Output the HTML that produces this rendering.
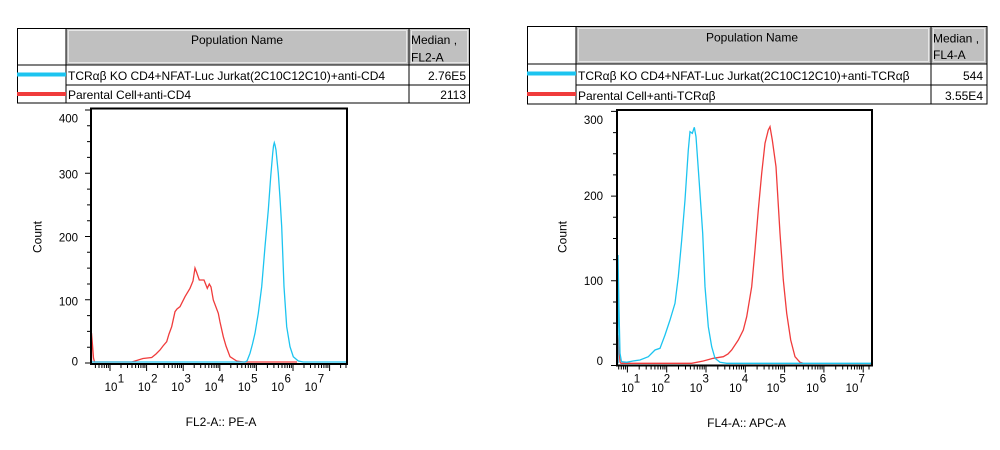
<!DOCTYPE html>
<html><head><meta charset="utf-8"><style>
html,body{margin:0;padding:0;background:#fff;}
svg{display:block;}
text{font-family:"Liberation Sans",Arial,sans-serif;fill:#000;}
</style></head><body>
<svg width="1000" height="450" viewBox="0 0 1000 450" xmlns="http://www.w3.org/2000/svg">
<rect x="0" y="0" width="1000" height="450" fill="#fff"/>

<!-- ===== LEFT TABLE ===== -->
<rect x="66" y="28" width="343" height="37" fill="#c0c0c0"/>
<rect x="409" y="28" width="61" height="37" fill="#c0c0c0"/>
<rect x="68.5" y="30.5" width="338" height="32" fill="none" stroke="#e6e6e6" stroke-width="1"/>
<rect x="411.5" y="30.5" width="56" height="32" fill="none" stroke="#e6e6e6" stroke-width="1"/>
<g stroke="#000" stroke-width="1" fill="none">
<rect x="17.5" y="28.5" width="452" height="74.5"/>
<line x1="17" y1="65" x2="470" y2="65"/>
<line x1="66" y1="85" x2="470" y2="85"/>
<line x1="66" y1="28" x2="66" y2="103"/>
<line x1="409" y1="28" x2="409" y2="103"/>
</g>
<line x1="17" y1="74.5" x2="66" y2="74.5" stroke="#1cc4f0" stroke-width="4"/>
<line x1="17" y1="94" x2="66" y2="94" stroke="#f03c3c" stroke-width="4"/>
<g font-size="12">
<text x="237" y="44" text-anchor="middle">Population Name</text>
<text x="411" y="44">Median ,</text>
<text x="411" y="61.5">FL2-A</text>
<text x="68" y="80">TCRαβ KO CD4+NFAT-Luc Jurkat(2C10C12C10)+anti-CD4</text>
<text x="466" y="80" text-anchor="end">2.76E5</text>
<text x="68" y="99">Parental Cell+anti-CD4</text>
<text x="466" y="99" text-anchor="end">2113</text>
</g>

<!-- ===== RIGHT TABLE ===== -->
<rect x="576" y="26" width="355" height="38" fill="#c0c0c0"/>
<rect x="931" y="26" width="56" height="38" fill="#c0c0c0"/>
<rect x="578.5" y="28.5" width="350" height="33" fill="none" stroke="#e6e6e6" stroke-width="1"/>
<rect x="933.5" y="28.5" width="51" height="33" fill="none" stroke="#e6e6e6" stroke-width="1"/>
<g stroke="#000" stroke-width="1" fill="none">
<rect x="527.5" y="26.5" width="459.5" height="77.5"/>
<line x1="527" y1="64" x2="987" y2="64"/>
<line x1="576" y1="85" x2="987" y2="85"/>
<line x1="576" y1="26" x2="576" y2="104"/>
<line x1="931" y1="26" x2="931" y2="104"/>
</g>
<line x1="527" y1="73.5" x2="576" y2="73.5" stroke="#1cc4f0" stroke-width="4"/>
<line x1="527" y1="94" x2="576" y2="94" stroke="#f03c3c" stroke-width="4"/>
<g font-size="12">
<text x="752" y="41.5" text-anchor="middle">Population Name</text>
<text x="933" y="42.5">Median ,</text>
<text x="933" y="59">FL4-A</text>
<text x="578" y="80">TCRαβ KO CD4+NFAT-Luc Jurkat(2C10C12C10)+anti-TCRαβ</text>
<text x="983" y="80" text-anchor="end">544</text>
<text x="578" y="100">Parental Cell+anti-TCRαβ</text>
<text x="983" y="100" text-anchor="end">3.55E4</text>
</g>

<!-- ===== LEFT CHART ===== -->
<polyline fill="none" stroke="#f03c3c" stroke-width="1.3" points="91.5,362 91.5,333 92.5,345 93.5,358 94.5,362 131.7,362 135,361 143,358.5 151.7,357.5 156,354 160,350 163,346 166.7,341.7 169,334 171.7,326.7 175,311.7 177,309 180,306.7 185,296.7 190,288.3 193,281 195,268 196.5,272 199.3,280 204,280 207.3,288.3 209.3,284 211,287 213.3,300 218.3,313.3 220,322 223.3,336.7 226,346 230,356.7 236.7,361 243.3,362 297,362"/>
<polyline fill="none" stroke="#1cc4f0" stroke-width="1.3" points="92,362 245,362 247,361 250,353.3 252.5,344 255,333.3 258.3,313.3 261.7,286.7 265,246.7 268.3,210 270.7,176.7 272.7,153.3 273.5,146 274.3,142.7 275,145 276,150 278.3,173.3 280,198 281.7,226.7 284,286.7 286.7,326.7 290,346.7 293.3,356.7 298.3,361 303.3,362 346,362"/>
<rect x="91" y="108.5" width="256" height="255.5" fill="none" stroke="#000" stroke-width="2"/>
<path stroke="#000" stroke-width="1" fill="none" d="
M85,363H90 M85,299.75H90 M85,236.5H90 M85,173.25H90 M85,110H90
M87,347.2H90 M87,331.4H90 M87,315.6H90 M87,284H90 M87,268.1H90 M87,252.3H90
M87,220.7H90 M87,204.9H90 M87,189.1H90 M87,157.4H90 M87,141.6H90 M87,125.8H90
M110,365V371 M146.6,365V371 M183.2,365V371 M219.8,365V371 M256.4,365V371 M293,365V371 M329.6,365V371
M95.4,365V368 M99,365V368 M101.9,365V368 M104.3,365V368 M106.5,365V368 M108.3,365V368
M121,365V368 M127.5,365V368 M132,365V368 M135.6,365V368 M138.5,365V368 M140.9,365V368 M143.1,365V368 M144.9,365V368
M157.6,365V368 M164.1,365V368 M168.6,365V368 M172.2,365V368 M175.1,365V368 M177.5,365V368 M179.7,365V368 M181.5,365V368
M194.2,365V368 M200.7,365V368 M205.2,365V368 M208.8,365V368 M211.7,365V368 M214.1,365V368 M216.3,365V368 M218.1,365V368
M230.8,365V368 M237.3,365V368 M241.8,365V368 M245.4,365V368 M248.3,365V368 M250.7,365V368 M252.9,365V368 M254.7,365V368
M267.4,365V368 M273.9,365V368 M278.4,365V368 M282,365V368 M284.9,365V368 M287.3,365V368 M289.5,365V368 M291.3,365V368
M304,365V368 M310.5,365V368 M315,365V368 M318.6,365V368 M321.5,365V368 M323.9,365V368 M326.1,365V368 M327.9,365V368
M340.6,365V368 M346,365V368"/>
<g font-size="11.5" text-anchor="end">
<text x="78" y="122.5">400</text>
<text x="78" y="178.5">300</text>
<text x="78" y="241.5">200</text>
<text x="78" y="305.5">100</text>
<text x="78" y="365.5">0</text>
</g>
<g font-size="11.5" text-anchor="middle">
<text x="111" y="391">10</text><text x="121" y="382.5">1</text>
<text x="144.3" y="391">10</text><text x="154.3" y="382.5">2</text>
<text x="177.7" y="391">10</text><text x="187.7" y="382.5">3</text>
<text x="211" y="391">10</text><text x="221" y="382.5">4</text>
<text x="244.3" y="391">10</text><text x="254.3" y="382.5">5</text>
<text x="277.7" y="391">10</text><text x="287.7" y="382.5">6</text>
<text x="311" y="391">10</text><text x="321" y="382.5">7</text>
</g>
<text x="221" y="426" font-size="12" text-anchor="middle">FL2-A:: PE-A</text>
<text transform="translate(41.5,237) rotate(-90)" font-size="12" text-anchor="middle">Count</text>

<!-- ===== RIGHT CHART ===== -->
<polyline fill="none" stroke="#f03c3c" stroke-width="1.3" points="618,363.3 618,335 619,350 620,362 621,363.3 691.7,363.3 703.3,361 713.3,358.3 723.3,356.7 728,354 731.7,350 738.3,340 743.3,330 746.7,316.7 751.7,286.7 755,250 758.3,210 761.7,173.3 765,143.3 768.3,130 770,126.7 772.3,140 776,166.7 780,233.3 783.3,280 786.7,313.3 790.7,340 795,356.7 800,362.3 803,363.3"/>
<polyline fill="none" stroke="#1cc4f0" stroke-width="1.3" points="618,363.3 618,255 619,310 620,353.3 621.5,361.7 626.7,362.3 633,361 640,360 648.3,356.7 652,353 655,350 660,348.3 665,335 670,320 675,303.3 678.3,276.7 681.7,240 685,200 688.3,150 690,131.7 692.3,133.3 694.3,127.3 696,136.7 699.3,183.3 702.7,233.3 705,286.7 708.3,326.7 711.7,346.7 715,358.3 720,362.3 726.7,363.3 871,363.3"/>
<rect x="617" y="110" width="255" height="255.5" fill="none" stroke="#000" stroke-width="2"/>
<path stroke="#000" stroke-width="1" fill="none" d="
M611,365.5H616 M611,280.8H616 M611,196.1H616 M611,111.4H616
M613,344.3H616 M613,323.1H616 M613,302H616 M613,259.6H616 M613,238.5H616 M613,217.3H616
M613,174.9H616 M613,153.7H616 M613,132.6H616
M627.4,366.5V372.5 M666.7,366.5V372.5 M706,366.5V372.5 M745.3,366.5V372.5 M784.6,366.5V372.5 M823.9,366.5V372.5 M863.2,366.5V372.5
M618.7,366.5V369.5 M621.3,366.5V369.5 M623.6,366.5V369.5 M625.6,366.5V369.5
M639.2,366.5V369.5 M646.2,366.5V369.5 M651.1,366.5V369.5 M654.9,366.5V369.5 M658,366.5V369.5 M660.6,366.5V369.5 M662.9,366.5V369.5 M664.9,366.5V369.5
M678.5,366.5V369.5 M685.5,366.5V369.5 M690.4,366.5V369.5 M694.2,366.5V369.5 M697.3,366.5V369.5 M699.9,366.5V369.5 M702.2,366.5V369.5 M704.2,366.5V369.5
M717.8,366.5V369.5 M724.8,366.5V369.5 M729.7,366.5V369.5 M733.5,366.5V369.5 M736.6,366.5V369.5 M739.2,366.5V369.5 M741.5,366.5V369.5 M743.5,366.5V369.5
M757.1,366.5V369.5 M764.1,366.5V369.5 M769,366.5V369.5 M772.8,366.5V369.5 M775.9,366.5V369.5 M778.5,366.5V369.5 M780.8,366.5V369.5 M782.8,366.5V369.5
M796.4,366.5V369.5 M803.4,366.5V369.5 M808.3,366.5V369.5 M812.1,366.5V369.5 M815.2,366.5V369.5 M817.8,366.5V369.5 M820.1,366.5V369.5 M822.1,366.5V369.5
M835.7,366.5V369.5 M842.7,366.5V369.5 M847.6,366.5V369.5 M851.4,366.5V369.5 M854.5,366.5V369.5 M857.1,366.5V369.5 M859.4,366.5V369.5 M861.4,366.5V369.5
M869,366.5V369.5"/>
<g font-size="11.5" text-anchor="end">
<text x="603" y="124">300</text>
<text x="603" y="200">200</text>
<text x="603" y="285">100</text>
<text x="603" y="365">0</text>
</g>
<g font-size="11.5" text-anchor="middle">
<text x="627.5" y="392">10</text><text x="637" y="382.5">1</text>
<text x="657.5" y="392">10</text><text x="667" y="382.5">2</text>
<text x="696" y="392">10</text><text x="705.7" y="382.5">3</text>
<text x="735.5" y="392">10</text><text x="745" y="382.5">4</text>
<text x="773" y="392">10</text><text x="782.7" y="382.5">5</text>
<text x="812.5" y="392">10</text><text x="823" y="382.5">6</text>
<text x="852" y="392">10</text><text x="861.7" y="382.5">7</text>
</g>
<text x="746.5" y="427" font-size="12" text-anchor="middle">FL4-A:: APC-A</text>
<text transform="translate(566.5,237) rotate(-90)" font-size="12" text-anchor="middle">Count</text>
</svg>
</body></html>
